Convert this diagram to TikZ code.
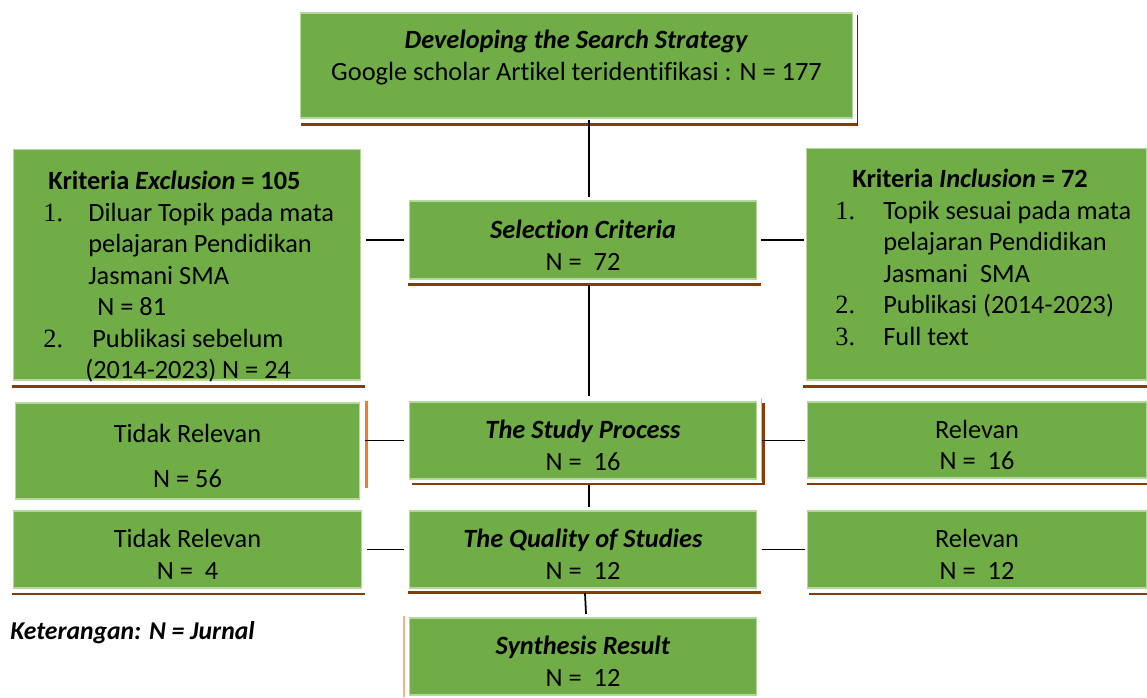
\documentclass[tikz,border=0pt]{standalone}
\usepackage{fontspec}
\setmainfont{Carlito}[Ligatures=NoCommon]
\newfontfamily\numfont{Liberation Serif}
\usetikzlibrary{positioning,calc}
\definecolor{boxgreen}{HTML}{70AD47}
\definecolor{boxedge}{HTML}{B5D99C}
\definecolor{rimbrown}{HTML}{843C0C}
\definecolor{rimorange}{HTML}{ED7D31}
\definecolor{rimlight}{HTML}{F4B183}
\newcommand{\topstrut}{\rule{0pt}{0.57cm}}

\begin{document}
\begin{tikzpicture}[
  x=0.02cm, y=-0.02cm,
  card/.style={
    draw=boxedge,
    line width=0.6pt,
    fill=boxgreen,
    inner sep=0pt,
    outer sep=0pt,
    align=center,
    font=\fontsize{15}{18}\selectfont
  },
  listtext/.style={
    inner sep=0pt,
    anchor=north west,
    align=left,
    font=\fontsize{15}{17.9}\selectfont
  },
  rim/.style={draw=rimbrown, line width=1.7pt},
  link/.style={draw=black, line width=1pt}
]
\useasboundingbox (0,0) rectangle (1147,697);

% -------- Middle column --------
\node[card, minimum width=11.06cm, minimum height=2.10cm] (search) at (576.5,65.5)
{\textbf{\textit{Developing the Search Strategy}}\\
Google scholar Artikel teridentifikasi : N = 177\rule[-0.42cm]{0pt}{0.1cm}};

\node[card, minimum width=6.96cm, minimum height=1.56cm] (sel) at (583,240)
{\topstrut\textbf{\textit{Selection Criteria}}\\N =\ \ 72};

\node[card, minimum width=6.96cm, minimum height=1.54cm] (study) at (583,440.5)
{\topstrut\textbf{\textit{The Study Process}}\\N =\ \ 16};

\node[card, minimum width=6.96cm, minimum height=1.54cm] (qual) at (583,549.5)
{\topstrut\textbf{\textit{The Quality of Studies}}\\N =\ \ 12};

\node[card, minimum width=6.96cm, minimum height=1.54cm] (synth) at (583,656.5)
{\topstrut\textbf{\textit{Synthesis Result}}\\N =\ \ 12};

% -------- Left column --------
\node[card, minimum width=6.96cm, minimum height=4.62cm] (excl) at (187,264.5) {};
\node[listtext] (excltxt) at (43,171)
{\hspace*{0.1cm}\textbf{Kriteria \textit{Exclusion} = 105}\\
\makebox[0.9cm][l]{\numfont 1.}Diluar Topik pada mata\\
\hspace*{0.9cm}pelajaran Pendidikan\\
\hspace*{0.9cm}Jasmani SMA\\
\hspace*{1.08cm}N = 81\\
\makebox[0.98cm][l]{\numfont 2.}Publikasi sebelum\\
\hspace*{0.84cm}(2014-2023) N = 24};

\node[card, minimum width=6.90cm, minimum height=1.92cm] (irr56) at (187.5,451)
{\topstrut Tidak Relevan\\[7.5pt]N = 56};

\node[card, minimum width=6.98cm, minimum height=1.54cm] (irr4) at (187.5,549.5)
{\topstrut Tidak Relevan\\N =\ \ 4};

% -------- Right column --------
\node[card, minimum width=6.82cm, minimum height=4.64cm] (incl) at (976.5,264) {};
\node[listtext] (incltxt) at (835,169)
{\hspace*{0.34cm}\textbf{Kriteria \textit{Inclusion} = 72}\\
\makebox[0.96cm][l]{\numfont 1.}Topik sesuai pada mata\\
\hspace*{0.96cm}pelajaran Pendidikan\\
\hspace*{0.96cm}Jasmani\ \ SMA\\
\makebox[0.96cm][l]{\numfont 2.}Publikasi (2014-2023)\\
\makebox[0.96cm][l]{\numfont 3.}Full text};

\node[card, minimum width=6.80cm, minimum height=1.52cm] (rel16) at (977,440)
{\topstrut Relevan\\N =\ \ 16};

\node[card, minimum width=6.80cm, minimum height=1.54cm] (rel12) at (977,549.5)
{\topstrut Relevan\\N =\ \ 12};

% -------- Note --------
\node[anchor=west, inner sep=0pt, font=\fontsize{14.6}{17}\selectfont\bfseries\itshape] (note) at (10,633)
{Keterangan: N = Jurnal};

% -------- Shadow rims --------
\draw[rim] ([xshift=0.02cm,yshift=-0.13cm]search.south west) -- ([xshift=0.1cm,yshift=-0.13cm]search.south east);
\draw[draw=rimbrown!70!black, line width=0.6pt] ([xshift=0.1cm,yshift=-0.04cm]search.north east) -- ([xshift=0.1cm,yshift=-0.16cm]search.south east);
\draw[rim] ([xshift=-0.02cm,yshift=-0.13cm]excl.south west) -- ([xshift=0.08cm,yshift=-0.13cm]excl.south east);
\draw[rim] ([xshift=-0.02cm,yshift=-0.11cm]sel.south west) -- ([xshift=0.08cm,yshift=-0.11cm]sel.south east);
\draw[rim] ([xshift=-0.06cm,yshift=-0.13cm]incl.south west) -- ([yshift=-0.13cm]incl.south east);
\draw[rim] ([xshift=0.06cm,yshift=-0.1cm]study.south west) -- ([xshift=0.13cm,yshift=-0.1cm]study.south east)
  -- ([xshift=0.13cm,yshift=-0.02cm]study.north east);
\draw[draw=rimlight, line width=0.6pt] ([xshift=0.09cm,yshift=0.08cm]study.north east) -- ([xshift=0.09cm,yshift=-0.04cm]study.south east);
\draw[rim] ([yshift=-0.12cm]rel16.south west) -- ([yshift=-0.12cm]rel16.south east);
\draw[rim] ([xshift=-0.02cm,yshift=-0.12cm]irr4.south west) -- ([xshift=0.06cm,yshift=-0.12cm]irr4.south east);
\draw[rim] ([xshift=-0.02cm,yshift=-0.09cm]qual.south west) -- ([xshift=0.08cm,yshift=-0.09cm]qual.south east);
\draw[rim] ([xshift=0.04cm,yshift=-0.12cm]rel12.south west) -- ([yshift=-0.12cm]rel12.south east);
\draw[draw=rimorange, line width=1.4pt] ([xshift=0.13cm,yshift=0.04cm]irr56.north east) -- ([xshift=0.13cm,yshift=0.22cm]irr56.south east);
\draw[draw=rimlight, line width=0.7pt] ([xshift=-0.1cm,yshift=0.04cm]synth.north west) -- ([xshift=-0.1cm,yshift=-0.04cm]synth.south west);

% -------- Connectors --------
\coordinate (spine) at (589,0);
\draw[link] ([yshift=-0.04cm]search.south -| spine) -- ([yshift=0.08cm]sel.north -| spine);
\draw[link] ([yshift=-0.12cm]sel.south -| spine) -- ([yshift=0.12cm]study.north -| spine);
\draw[link] ([yshift=-0.12cm]study.south -| spine) -- ([yshift=0.08cm]qual.north -| spine);
\draw[link] ([xshift=-0.08cm,yshift=-0.1cm]qual.south -| spine) -- ([xshift=-0.06cm,yshift=0.08cm]synth.north -| spine);

\draw[link, shorten <=0.1cm, shorten >=0.1cm] (excl.east |- sel.west) -- (sel.west);
\draw[link, shorten <=0.08cm, shorten >=0.04cm] (sel.east) -- (incl.west |- sel.east);
\draw[link, shorten <=0.1cm, shorten >=0.1cm] (irr56.east |- study.west) -- (study.west);
\draw[link, shorten <=0.1cm, shorten >=0.04cm] (study.east) -- (rel16.west |- study.east);
\draw[link, shorten <=0.1cm, shorten >=0.1cm] (irr4.east |- qual.west) -- (qual.west);
\draw[link, shorten <=0.1cm, shorten >=0.04cm] (qual.east) -- (rel12.west |- qual.east);

\end{tikzpicture}
\end{document}
